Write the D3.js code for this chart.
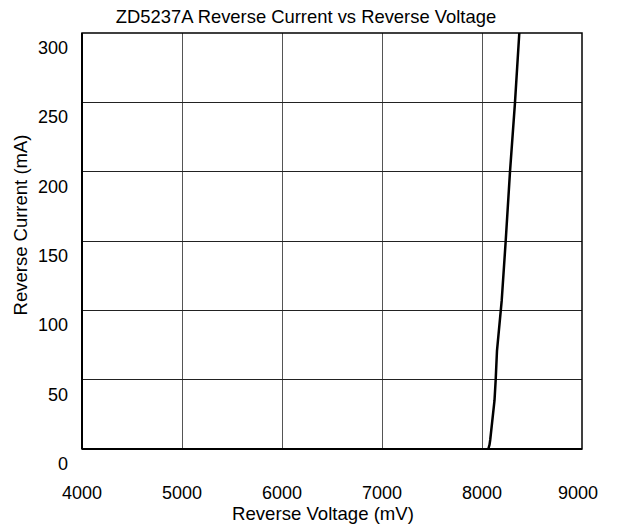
<!DOCTYPE html>
<html><head><meta charset="utf-8">
<script src="https://cdn.jsdelivr.net/npm/d3@7/dist/d3.min.js"></script>
<style>body{margin:0;background:#fff}svg{display:block}text{font-family:"Liberation Sans",Arial,sans-serif;fill:#000}</style>
</head><body><svg id="c" width="621" height="529"></svg>
<script>
const title = "ZD5237A Reverse Current vs Reverse Voltage";
const xLabel = "Reverse Voltage (mV)";
const yLabel = "Reverse Current (mA)";
const xTicks = [4000, 5000, 6000, 7000, 8000, 9000];
const yTicks = [0, 50, 100, 150, 200, 250, 300];
const voltage = [8063, 8075, 8082, 8125, 8137, 8150, 8197, 8237, 8280, 8330, 8373];
const current = [0, 3, 6.5, 35, 50, 71, 107, 150, 200, 250, 300];

const svg = d3.select("#c");
const m = {l: 82, r: 582, t: 33, b: 449};
const x = d3.scaleLinear().domain([4000, 9000]).range([m.l, m.r]);
const y = d3.scaleLinear().domain([0, 300]).range([m.b, m.t]);

// grid
svg.append("g").selectAll("line").data(xTicks.slice(1, -1)).join("line")
  .attr("x1", d => x(d)).attr("x2", d => x(d)).attr("y1", m.t).attr("y2", m.b)
  .attr("stroke", "#555").attr("stroke-width", 1).attr("shape-rendering", "crispEdges");
svg.append("g").selectAll("line").data(yTicks.slice(1, -1)).join("line")
  .attr("x1", m.l).attr("x2", m.r).attr("y1", d => y(d)).attr("y2", d => y(d))
  .attr("stroke", "#222").attr("stroke-width", 1).attr("shape-rendering", "crispEdges");

// frame
svg.append("rect").attr("x", m.l).attr("y", m.t).attr("width", m.r - m.l).attr("height", m.b - m.t)
  .attr("fill", "none").attr("stroke", "#000").attr("stroke-width", 1.5);
svg.append("line").attr("x1", m.l).attr("x2", m.l).attr("y1", m.t).attr("y2", m.b)
  .attr("stroke", "#000").attr("stroke-width", 2);
svg.append("line").attr("x1", m.l).attr("x2", m.r).attr("y1", m.b).attr("y2", m.b)
  .attr("stroke", "#000").attr("stroke-width", 2);

// tick labels
svg.append("g").selectAll("text").data(yTicks).join("text")
  .attr("x", 68).attr("y", d => y(d) + 21).attr("text-anchor", "end")
  .attr("font-size", 18).text(d => d);
svg.append("g").selectAll("text").data(xTicks).join("text")
  .attr("x", (d, i) => x(d) - (i === xTicks.length - 1 ? 4 : 0)).attr("y", 499).attr("text-anchor", "middle")
  .attr("font-size", 18).text(d => d);

// titles
svg.append("text").attr("x", 306).attr("y", 23).attr("text-anchor", "middle")
  .attr("font-size", 18.4).text(title);
svg.append("text").attr("x", 323).attr("y", 520).attr("text-anchor", "middle")
  .attr("font-size", 18.6).text(xLabel);
svg.append("text").attr("transform", "translate(26.5,225) rotate(-90)").attr("text-anchor", "middle")
  .attr("font-size", 18.5).text(yLabel);

// curve
const pts = voltage.map((v, i) => [v, current[i]]);
svg.append("path").datum(pts)
  .attr("d", d3.line().x(d => x(d[0])).y(d => y(d[1])))
  .attr("fill", "none").attr("stroke", "#000").attr("stroke-width", 2.5);
</script></body></html>
